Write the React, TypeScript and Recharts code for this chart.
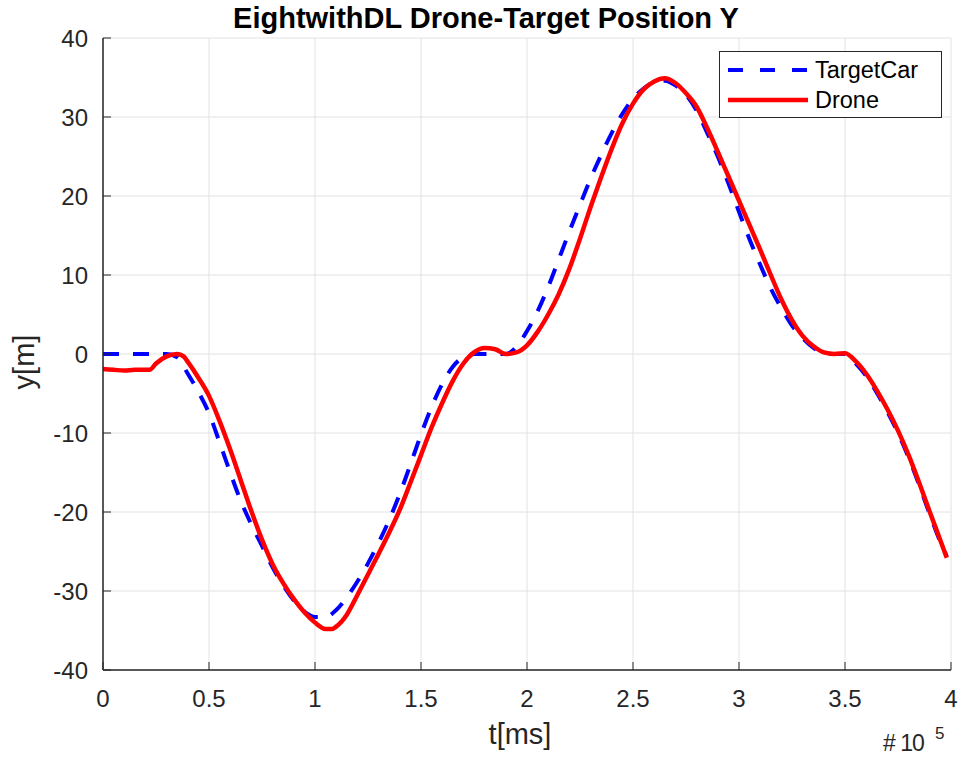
import React from 'react';
import { LineChart, Line, XAxis, YAxis, CartesianGrid } from 'recharts';

// time in units of 1e5 ms, position y in m
const tTarget = [0, 0.1, 0.2, 0.3, 0.35, 0.4, 0.45, 0.5, 0.55, 0.6, 0.65, 0.7, 0.75, 0.8, 0.85, 0.9, 0.95, 1.0, 1.05, 1.1, 1.15, 1.2, 1.25, 1.3, 1.35, 1.4, 1.45, 1.5, 1.55, 1.6, 1.65, 1.7, 1.75, 1.8, 1.85, 1.9, 1.95, 2.0, 2.05, 2.1, 2.15, 2.2, 2.25, 2.3, 2.35, 2.4, 2.45, 2.5, 2.55, 2.6, 2.65, 2.7, 2.75, 2.8, 2.85, 2.9, 2.95, 3.0, 3.05, 3.1, 3.15, 3.2, 3.25, 3.3, 3.35, 3.4, 3.45, 3.5, 3.55, 3.6, 3.65, 3.7, 3.75, 3.8, 3.85, 3.9, 3.95, 3.98];
const yTarget = [0, 0, 0, 0, -0.4, -2.5, -4.8, -7.5, -11.2, -15, -18.6, -21.6, -24.3, -27, -29.3, -31.2, -32.6, -33.3, -33.3, -32.4, -30.8, -28.8, -26.5, -23.9, -21.0, -17.7, -14, -10.2, -6.7, -3.8, -1.6, -0.4, 0, 0, 0, 0, 0.9, 2.9, 5.4, 8.5, 12, 15.5, 18.9, 22.2, 25.2, 28, 30.4, 32.3, 33.6, 34.4, 34.6, 34.0, 32.8, 30.8, 28, 25, 21.6, 18, 14.5, 11.3, 8.3, 5.8, 3.6, 2, 0.8, 0.1, 0, 0, -1.2, -2.8, -4.9, -7.3, -10, -13.1, -16.6, -20.3, -23.8, -25.6];

const tDrone = [0, 0.05, 0.1, 0.15, 0.2, 0.22, 0.25, 0.3, 0.35, 0.38, 0.4, 0.45, 0.5, 0.55, 0.6, 0.65, 0.7, 0.75, 0.8, 0.85, 0.9, 0.95, 1.0, 1.05, 1.08, 1.1, 1.15, 1.2, 1.25, 1.3, 1.35, 1.4, 1.45, 1.5, 1.55, 1.6, 1.65, 1.7, 1.75, 1.8, 1.85, 1.9, 1.95, 2.0, 2.05, 2.1, 2.15, 2.2, 2.25, 2.3, 2.35, 2.4, 2.45, 2.5, 2.55, 2.6, 2.65, 2.7, 2.75, 2.8, 2.85, 2.9, 2.95, 3.0, 3.05, 3.1, 3.15, 3.2, 3.25, 3.3, 3.35, 3.4, 3.45, 3.5, 3.55, 3.6, 3.65, 3.7, 3.75, 3.8, 3.85, 3.9, 3.95, 3.98];
const yDrone = [-1.9, -2.0, -2.1, -2.0, -2.0, -2.0, -1.2, -0.3, 0, -0.3, -1, -3, -5.3, -8.5, -12.1, -16, -19.9, -23.5, -26.6, -29.0, -31.0, -32.7, -34.0, -34.8, -34.8, -34.5, -33.0, -30.5, -27.9, -25.3, -22.6, -19.7, -16.3, -12.8, -9.3, -6.2, -3.4, -1.2, 0.2, 0.75, 0.6, 0, 0.2, 1.1, 2.8, 5.0, 7.6, 10.8, 14.6, 18.6, 22.4, 26, 29.2, 31.7, 33.5, 34.5, 34.9, 34.3, 33, 31.3, 28.6, 25.6, 22.5, 19.4, 16.3, 13.2, 10, 6.9, 4.3, 2.3, 1.0, 0.2, 0, 0.1, -0.9, -2.5, -4.6, -7.0, -9.7, -12.8, -16.3, -20, -23.6, -25.8];

const xTicks = [0, 0.5, 1, 1.5, 2, 2.5, 3, 3.5, 4];
const yTicks = [-40, -30, -20, -10, 0, 10, 20, 30, 40];

const targetData = tTarget.map((t, i) => ({ t, y: yTarget[i] }));
const droneData = tDrone.map((t, i) => ({ t, y: yDrone[i] }));

const FONT = '"Liberation Sans", Arial, sans-serif';
const AX = '#262626';
const blank = () => '';

export default function App() {
  return (
    <div style={{ position: 'absolute', left: 0, top: 0, width: 962, height: 764, background: '#fff', overflow: 'hidden' }}>
      <LineChart width={962} height={764} margin={{ top: 38, right: 11, bottom: 44, left: 43 }}>
        <CartesianGrid stroke="#e2e2e2" strokeWidth={1} />
        <XAxis
          type="number"
          dataKey="t"
          domain={[0, 4]}
          ticks={xTicks}
          allowDataOverflow
          height={50}
          axisLine={{ stroke: AX, strokeWidth: 1.5 }}
          tickLine={{ stroke: AX }}
          tickSize={-8}
          tickMargin={28}
          tick={{ fill: AX, fontSize: 24, fontFamily: FONT }}
        />
        <XAxis xAxisId="top" orientation="top" type="number" dataKey="t" domain={[0, 4]} ticks={xTicks} height={0}
          axisLine={{ stroke: AX, strokeWidth: 1.5 }} tickLine={{ stroke: AX }} tickSize={-8} tickFormatter={blank} />
        <YAxis
          type="number"
          domain={[-40, 40]}
          ticks={yTicks}
          width={60}
          axisLine={{ stroke: AX, strokeWidth: 1.5 }}
          tickLine={{ stroke: AX }}
          tickSize={-8}
          tickMargin={23}
          tick={{ fill: AX, fontSize: 24, fontFamily: FONT }}
        />
        <YAxis yAxisId="right" orientation="right" type="number" domain={[-40, 40]} ticks={yTicks} width={0}
          axisLine={{ stroke: AX, strokeWidth: 1.5 }} tickLine={{ stroke: AX }} tickSize={-8} tickFormatter={blank} />
        <Line data={targetData} dataKey="y" name="TargetCar" type="monotone" stroke="#0000ff" strokeWidth={4} strokeDasharray="16 14" dot={false} isAnimationActive={false} />
        <Line data={droneData} dataKey="y" name="Drone" type="monotone" stroke="#ff0000" strokeWidth={4.5} dot={false} isAnimationActive={false} />
      </LineChart>

      {/* title, axis labels, exponent and legend drawn over the chart */}
      <svg width={962} height={764} style={{ position: 'absolute', left: 0, top: 0, pointerEvents: 'none' }}>
        <text x={486} y={28} textAnchor="middle" fontFamily={FONT} fontWeight="bold" fontSize={29} fill="#000">
          EightwithDL Drone-Target Position Y
        </text>
        <text x={520} y={744} textAnchor="middle" fontFamily={FONT} fontSize={29} fill={AX}>t[ms]</text>
        <text x={34} y={362} textAnchor="middle" fontFamily={FONT} fontSize={29} fill={AX} transform="rotate(-90, 34, 362)">y[m]</text>
        <text x={883} y={751} fontFamily={FONT} fontSize={23} letterSpacing={-1} fill={AX}>
          # 10
        </text>
        <text x={935} y={739} fontFamily={FONT} fontSize={17} fill={AX}>5</text>

        <rect x={719.5} y={51.5} width={222} height={66} fill="#fff" stroke={AX} strokeWidth={1} />
        <line x1={728} y1={70} x2={808} y2={70} stroke="#0000ff" strokeWidth={4} strokeDasharray="15 17" />
        <text x={815} y={78} fontFamily={FONT} fontSize={23.5} fill="#000">TargetCar</text>
        <line x1={728} y1={100} x2={808} y2={100} stroke="#ff0000" strokeWidth={4.5} />
        <text x={815} y={108} fontFamily={FONT} fontSize={23.5} fill="#000">Drone</text>
      </svg>
    </div>
  );
}
